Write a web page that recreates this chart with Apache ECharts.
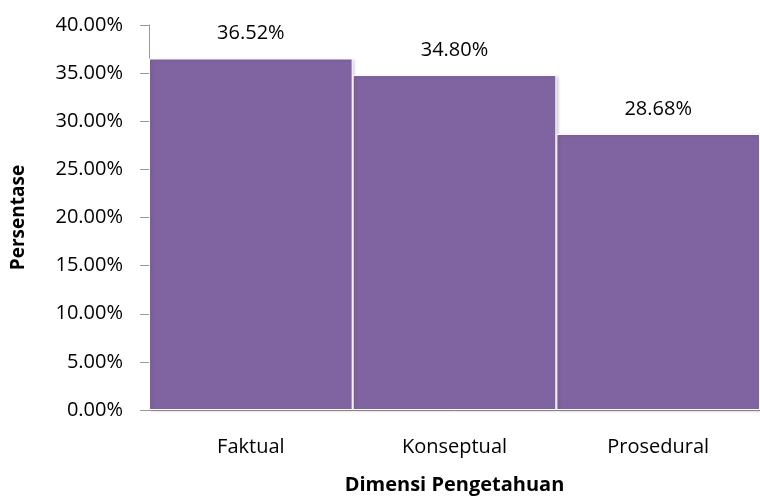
<!DOCTYPE html>
<html>
<head>
<meta charset="utf-8">
<script src="https://cdn.jsdelivr.net/npm/echarts@6/dist/echarts.min.js"></script>
<style>
html,body{margin:0;padding:0;background:#fff;}
#chart{width:760px;height:498px;}
</style>
</head>
<body>
<div id="chart"></div>
<script>
const categories = ['Faktual', 'Konseptual', 'Prosedural'];
const percentages = [36.52, 34.80, 28.68];
const yTicks = { min: 0, max: 40, step: 5 };

const font = '"Open Sans", "Liberation Sans", sans-serif';
const chart = echarts.init(document.getElementById('chart'), null, { renderer: 'canvas' });

chart.setOption({
  animation: false,
  grid: { left: 149, right: 0, top: 25, bottom: 88, outerBoundsMode: 'none', containLabel: false },
  xAxis: {
    type: 'category',
    data: categories,
    name: 'Dimensi Pengetahuan',
    nameLocation: 'middle',
    nameGap: 65,
    nameTextStyle: { fontFamily: font, fontWeight: 'bold', fontSize: 20, color: '#000' },
    axisLine: { lineStyle: { color: '#9a9a9a', width: 1 } },
    axisTick: { show: false },
    axisLabel: { fontFamily: font, fontSize: 20, color: '#000', margin: 27 }
  },
  yAxis: {
    type: 'value',
    min: yTicks.min,
    max: yTicks.max,
    interval: yTicks.step,
    name: 'Persentase',
    nameLocation: 'middle',
    nameGap: 121,
    nameTextStyle: { fontFamily: font, fontWeight: 'bold', fontSize: 19, color: '#000' },
    axisLine: { show: true, lineStyle: { color: '#9a9a9a', width: 1 } },
    axisTick: { show: true, length: 9, lineStyle: { color: '#9a9a9a' } },
    splitLine: { show: false },
    axisLabel: {
      fontFamily: font, fontSize: 20, color: '#000', margin: 26,
      formatter: v => v.toFixed(2) + '%'
    }
  },
  series: [{
    type: 'bar',
    data: percentages,
    barCategoryGap: '0%',
    itemStyle: {
      color: '#8064A2',
      borderColor: '#ffffff',
      borderWidth: 1,
      shadowColor: 'rgba(0,0,0,0.18)',
      shadowBlur: 3,
      shadowOffsetX: 2,
      shadowOffsetY: 1
    },
    label: {
      show: true,
      position: 'top',
      distance: 15,
      fontFamily: font,
      fontSize: 20,
      color: '#000',
      formatter: p => p.value.toFixed(2) + '%'
    }
  }]
});
</script>
</body>
</html>
